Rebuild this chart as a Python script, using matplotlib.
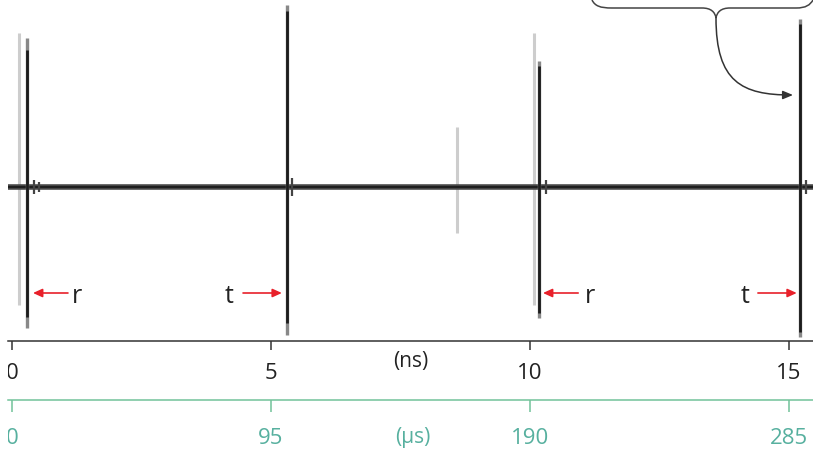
import numpy as np
import matplotlib
matplotlib.use("Agg")
import matplotlib.pyplot as plt
from matplotlib.path import Path
from matplotlib.patches import PathPatch, FancyArrowPatch
from matplotlib.transforms import Bbox, TransformedBbox

# ---------------- data ----------------
ns_ticks = [0, 5, 10, 15]
us_ticks = [0, 95, 190, 285]
us_per_ns = 19.0

# faint (earlier) trace spikes
faint_t = [0.135, 8.59, 10.08]
faint_top = [154, 60, 154]
faint_bot = [-118, -46, -118]

# main trace spikes (outer grey extent and dark core)
main_t = [0.29, 5.31, 10.17, 15.21]
main_top = [149, 182, 126, 168]
main_bot = [-141, -148, -131, -150]
core_top = [137, 176, 121, 163]
core_bot = [-130, -136, -126, -145]

# small ringing right after spikes
ring_t = [0.42, 0.52, 5.40, 10.30, 15.33]
ring_amp = [7, 5, 9, 7, 7]

# reflected / transmitted markers
mark_lab = ["r", "t", "r", "t"]
mark_head = [0.405, 5.21, 10.25, 15.15]
mark_tail = [1.08, 4.46, 10.93, 14.40]
mark_text = [1.16, 4.27, 11.06, 14.23]
mark_y = -106
mark_base = -116

# ---------------- figure ----------------
W, H = 813, 451
fig = plt.figure(figsize=(W / 100, H / 100), dpi=100)
FONT = "Open Sans"
GREEN_LINE = "#72c29a"
GREEN_TXT = "#57b09f"
RED = "#e8202a"

x0 = (8 - 12) / 51.8
x1 = (813 - 12) / 51.8
ax = fig.add_axes([8 / W, (H - 341) / H, 805 / W, 341 / H])
ax.set_xlim(x0, x1)
ax.set_ylim(-154, 187)
for s in ["top", "left", "right"]:
    ax.spines[s].set_visible(False)
ax.spines["bottom"].set_color("#333333")
ax.spines["bottom"].set_linewidth(1.1)
ax.set_yticks([])
ax.set_xticks(ns_ticks)
ax.set_xticklabels([str(v) for v in ns_ticks], fontsize=16, family=FONT, color="#222222")
ax.tick_params(axis="x", length=6.5, width=1.1, color="#333333", pad=9.3)
ax.patch.set_visible(False)

# faint spikes
ax.vlines(faint_t, faint_bot, faint_top, color="#cdcdcd", lw=2.2, zorder=1)
# baseline trace
ax.axhline(0, color="#454545", lw=4.0, zorder=2)
ax.axhline(0, color="#1e1e1e", lw=1.4, zorder=2)
# ringing
ax.vlines(ring_t, [-a for a in ring_amp], ring_amp, color="#444444", lw=1.6, zorder=2)
# main spikes
ax.vlines(main_t, main_bot, main_top, color="#888888", lw=2.4, zorder=3)
ax.vlines(main_t, core_bot, core_top, color="#1c1c1c", lw=2.0, zorder=4)

# r / t arrows
for lab, hx, tx, lx in zip(mark_lab, mark_head, mark_tail, mark_text):
    ax.annotate("", xy=(hx, mark_y), xytext=(tx, mark_y),
                arrowprops=dict(arrowstyle="-|>,head_length=0.55,head_width=0.25",
                                mutation_scale=10, color=RED, lw=1.2,
                                shrinkA=0, shrinkB=0))
    ax.text(lx, mark_base, lab, ha="left" if lab == "r" else "right", va="baseline",
            fontsize=18, family=FONT, color="#222222")

# second (microsecond) axis
ax2 = fig.add_axes([8 / W, (H - 400) / H, 805 / W, 0.0001])
ax2.set_xlim(x0 * us_per_ns, x1 * us_per_ns)
for s in ["top", "left", "right"]:
    ax2.spines[s].set_visible(False)
ax2.spines["bottom"].set_color(GREEN_LINE)
ax2.spines["bottom"].set_linewidth(1.1)
ax2.set_yticks([])
ax2.set_xticks(us_ticks)
ax2.set_xticklabels([str(v) for v in us_ticks], fontsize=16, family=FONT, color=GREEN_TXT)
ax2.tick_params(axis="x", length=8.5, width=1.1, color=GREEN_LINE, pad=11.8)
ax2.patch.set_visible(False)

# clip tick labels at left edge like the reference crop
clip = TransformedBbox(Bbox([[8 / 100, 0], [W / 100, H / 100]]), fig.dpi_scale_trans)
for a in (ax, ax2):
    for lbl in a.get_xticklabels():
        lbl.set_clip_box(clip)
        lbl.set_clip_on(True)

# axis unit labels
fig.text(411 / W, 1 - 362 / H, "(ns)", ha="center", va="center", fontsize=15,
         family=FONT, color="#222222")
fig.text(413 / W, 1 - 438 / H, "(\u03bcs)", ha="center", va="center", fontsize=15,
         family=FONT, color=GREEN_TXT)

# brace + curved arrow at top right (pixel coordinates)
def P(x, y):
    return (x / 100, (H - y) / 100)

verts = [P(592, 0), P(595, 6), P(600, 8), P(612, 8), P(702, 8),
         P(711, 8), P(715, 12), P(716, 18),
         P(717, 12), P(721, 8), P(730, 8), P(796, 8),
         P(806, 8), P(810, 5), P(813, 0)]
codes = [Path.MOVETO, Path.CURVE4, Path.CURVE4, Path.CURVE4, Path.LINETO,
         Path.CURVE4, Path.CURVE4, Path.CURVE4,
         Path.CURVE4, Path.CURVE4, Path.CURVE4, Path.LINETO,
         Path.CURVE4, Path.CURVE4, Path.CURVE4]
fig.add_artist(PathPatch(Path(verts, codes), fill=False, edgecolor="#444444", lw=1.1,
                         transform=fig.dpi_scale_trans))
arr_path = Path([P(716, 18), P(716, 82), P(742, 95), P(793, 95)],
                [Path.MOVETO, Path.CURVE4, Path.CURVE4, Path.CURVE4])
fig.add_artist(FancyArrowPatch(path=arr_path, arrowstyle="-|>,head_length=6,head_width=2.5",
                               mutation_scale=1, color="#333333", lw=1.1,
                               transform=fig.dpi_scale_trans))

fig.savefig("out.png", dpi=100)
